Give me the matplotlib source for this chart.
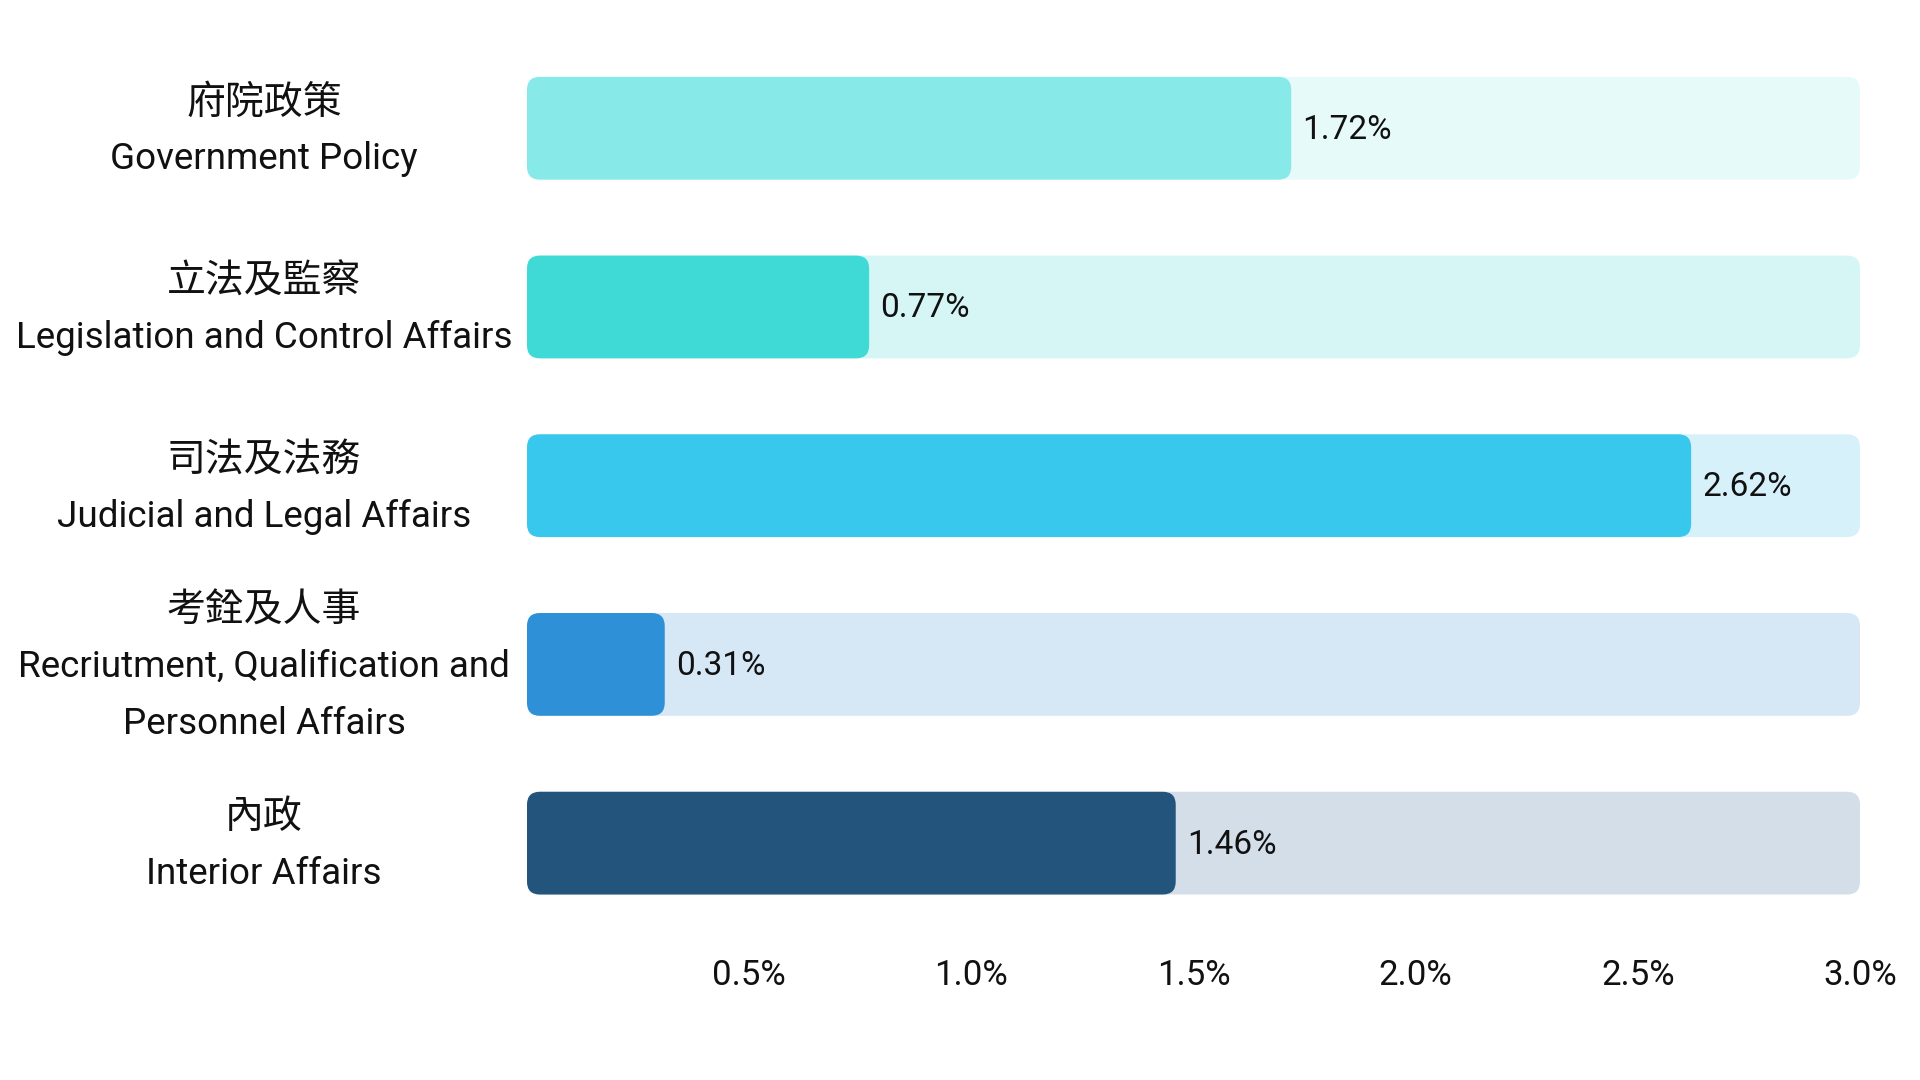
import matplotlib
matplotlib.use("Agg")
import matplotlib.pyplot as plt
from matplotlib.patches import FancyBboxPatch

# ---- data ----
categories_zh = ["府院政策", "立法及監察", "司法及法務", "考銓及人事", "內政"]
categories_en = [
    ["Government Policy"],
    ["Legislation and Control Affairs"],
    ["Judicial and Legal Affairs"],
    ["Recriutment, Qualification and", "Personnel Affairs"],
    ["Interior Affairs"],
]
values = [1.72, 0.77, 2.62, 0.31, 1.46]
value_labels = ["1.72%", "0.77%", "2.62%", "0.31%", "1.46%"]
xticks = [0.5, 1.0, 1.5, 2.0, 2.5, 3.0]
xtick_labels = ["0.5%", "1.0%", "1.5%", "2.0%", "2.5%", "3.0%"]
xmax = 3.0

bar_colors = ["#87EAE8", "#3FDAD6", "#38C8EE", "#2E90D6", "#23557C"]
track_colors = ["#E6FAF9", "#D6F6F5", "#D7F1FB", "#D6E8F6", "#D3DEE9"]

# ---- figure ----
fig = plt.figure(figsize=(19.2, 10.8), dpi=100)
left, right = 527 / 1920, 1860 / 1920
bottom, top = 1 - 945 / 1080, 1 - 21 / 1080
ax = fig.add_axes([left, bottom, right - left, top - bottom])
ax.set_xlim(0, xmax)
ax.set_ylim(4.57, -0.6)
for s in ax.spines.values():
    s.set_visible(False)
ax.set_yticks([])
ax.set_xticks(xticks)
ax.set_xticklabels(xtick_labels, fontsize=25, family="Roboto", color="#111111")
ax.tick_params(axis="x", length=0, pad=10)

bar_h = 0.575
ax_w_px = (right - left) * 1920
ax_h_px = (top - bottom) * 1080
x_per_px = xmax / ax_w_px
y_per_px = 5.17 / ax_h_px
r_px = 13
rs = r_px * x_per_px
aspect = y_per_px / x_per_px

for i, (v, bc, tc) in enumerate(zip(values, bar_colors, track_colors)):
    y0 = i - bar_h / 2
    track = FancyBboxPatch((0, y0), xmax, bar_h,
                           boxstyle=f"round,pad=0,rounding_size={rs}",
                           mutation_aspect=aspect, fc=tc, ec="none", zorder=1)
    ax.add_patch(track)
    bar = FancyBboxPatch((0, y0), v, bar_h,
                         boxstyle=f"round,pad=0,rounding_size={rs}",
                         mutation_aspect=aspect, fc=bc, ec="none", zorder=2)
    ax.add_patch(bar)
    ax.annotate(value_labels[i], xy=(v, i), xytext=(8, -1), textcoords="offset points",
                ha="left", va="center", fontsize=24, family="Roboto",
                color="#111111", zorder=3)

# category labels
label_x = 264 / 1920
line_gap = 41  # points
for i, (zh, en) in enumerate(zip(categories_zh, categories_en)):
    lines = [(zh, True)] + [(e, False) for e in en]
    n = len(lines)
    for j, (txt, is_zh) in enumerate(lines):
        off = ((n - 1) / 2 - j) * line_gap - 2
        ax.annotate(txt, xy=(label_x, i), xycoords=("figure fraction", "data"),
                    xytext=(0, off), textcoords="offset points",
                    ha="center", va="center",
                    fontsize=28 if is_zh else 26.5,
                    family=["Noto Sans CJK TC", "DejaVu Sans"] if is_zh else ["Roboto", "DejaVu Sans"],
                    color="#111111", annotation_clip=False)

fig.savefig("out.png", dpi=100, facecolor="white")
